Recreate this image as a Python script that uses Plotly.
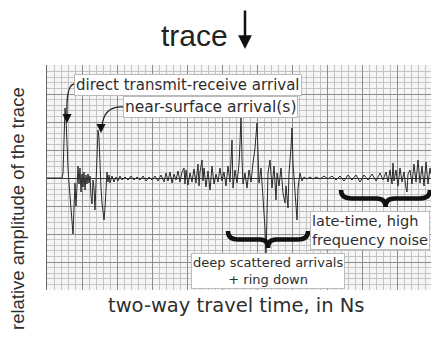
import plotly.graph_objects as go

# two-way travel time (arbitrary units) and relative amplitude of the trace
time_ns = [0, 15, 16, 17, 18, 19, 20, 21, 22, 23, 24, 25, 26, 27, 28, 29, 30, 31, 32, 33,
           34, 35, 36, 37, 38, 39, 40, 41, 42, 43, 44, 45, 46, 47, 48, 49, 50, 51, 52, 53,
           54, 55, 56, 57, 58, 59, 60, 61, 62, 63, 65, 67, 69, 71, 73, 75, 78, 81, 84, 87,
           90, 93, 96, 99, 102, 105, 108, 111, 114, 117, 119, 121, 123, 125, 127, 129, 131, 133, 135, 137,
           138, 139, 141, 143, 145, 147, 149, 151, 152, 153, 155, 156, 157, 159, 161, 163, 165, 167, 169, 171,
           173, 175, 177, 179, 181, 183, 185, 186, 188, 190, 192, 193, 194, 195, 196, 198, 200, 202, 204, 206,
           208, 210, 211, 212, 214, 216, 218, 219, 220, 221, 223, 225, 227, 229, 230, 232, 234, 236, 238, 239,
           241, 242, 244, 245, 246, 248, 249, 250, 251, 253, 255, 257, 260, 263, 266, 269, 273, 277, 281, 285,
           289, 293, 297, 301, 305, 309, 313, 317, 321, 325, 329, 333, 336, 339, 341, 343, 345, 346, 347, 349,
           351, 353, 355, 357, 359, 360, 361, 363, 365, 367, 369, 371, 373, 375, 377, 379, 381, 383, 384]
amplitude = [0, 0, 5, 30, 70, 60, 30, 10, -5, -20, -35, -48, -56, -30, -5, -28, -2, 12, -6, 10,
             -14, 4, -9, 6, -12, 3, -6, 4, -5, 2, -18, -26, -2, -10, -32, -8, 20, 48, 40, 10,
             -10, -25, -38, -42, -30, -5, 6, -4, 3, -5, 2, -4, 1, -3, 2, -2, 1, -2, 2, -2,
             1, -2, 2, -3, 1, -2, 2, -3, 3, -4, 5, -3, 6, -5, 4, -2, 7, -4, 6, 10,
             -6, 8, -7, 5, -4, 9, -5, 14, -8, 6, 18, -3, 10, -9, 7, -12, 12, -6, 4, -4,
             10, -3, 6, -8, 12, -4, 38, -10, 8, -5, 14, 35, 62, 20, -6, 5, -10, 8, -4, 15,
             30, 55, 25, -5, 10, -20, -50, -78, -40, 5, 18, -10, 12, -22, 5, -8, 10, -15, -25, -8,
             -30, 5, 30, 50, 15, -20, -30, -42, -10, 5, -3, 1, -1, 1, -1, 1, -1, 2, -1, 2,
             -2, 2, -3, 3, -2, 3, -4, 3, -2, 4, -3, 5, -2, 6, -4, 8, -6, 15, -3, 8,
             -8, 10, -4, 6, -10, -14, 4, 8, -6, 14, -4, 18, -5, 12, -8, 16, -6, 10, 4]

X_RANGE = [0, 384]
Y_RANGE = [-112, 113]

FONT = "DejaVu Sans, Verdana, sans-serif"
FONT_TITLE = "Liberation Sans, Arial, sans-serif"
TXT = "#2e2e2e"

fig = go.Figure()
fig.add_trace(go.Scatter(x=time_ns, y=amplitude, mode="lines",
                         line=dict(color="#2a2a2a", width=1), hoverinfo="skip",
                         showlegend=False))


def px(xp, yp):
    """convert picture pixel position to data coordinates (plot: left 47, zero at 178)"""
    return xp - 47, 178 - yp


def brace_path(x0, x1, ytop, h):
    xm = (x0 + x1) / 2
    w = x1 - x0
    ymid = ytop + h * 0.5
    ybot = ytop + h
    def P(a, b):
        dx, dy = px(a, b)
        return f"{dx},{dy}"
    return (f"M {P(x0, ytop)} Q {P(x0, ymid)} {P(x0 + w*0.12, ymid)} "
            f"L {P(xm - w*0.1, ymid)} Q {P(xm, ymid)} {P(xm, ybot)} "
            f"Q {P(xm, ymid)} {P(xm + w*0.1, ymid)} "
            f"L {P(x1 - w*0.12, ymid)} Q {P(x1, ymid)} {P(x1, ytop)}")


# braces
fig.add_shape(type="path", path=brace_path(228, 308, 231, 17),
              line=dict(color="#111", width=4.5), layer="above")
fig.add_shape(type="path", path=brace_path(341, 430, 190, 17),
              line=dict(color="#111", width=4.5), layer="above")


def curve(p0, c, p1):
    a = px(*p0); b = px(*c); d = px(*p1)
    return f"M {a[0]},{a[1]} Q {b[0]},{b[1]} {d[0]},{d[1]}"


fig.add_shape(type="path", path=curve((74, 84), (66, 85), (67, 116)),
              line=dict(color="#222", width=1.3), layer="above")
fig.add_shape(type="path", path=curve((123, 107), (104, 106), (102, 126)),
              line=dict(color="#222", width=1.3), layer="above")

annotations = []

def box_text(text, xp, yp, size, xanchor="left", align="left"):
    x, y = px(xp, yp)
    annotations.append(dict(x=x, y=y, xref="x", yref="y", text=text, showarrow=False,
                            xanchor=xanchor, yanchor="middle",
                            font=dict(family=FONT, size=size, color=TXT),
                            bgcolor="white", bordercolor="#bbbbbb", borderwidth=1,
                            borderpad=1, align=align))

box_text("direct transmit-receive arrival", 74, 85, 15)
box_text("near-surface arrival(s)", 123, 107, 15.5)
box_text("late-time, high<br>frequency noise", 430, 230, 14.5, xanchor="right")
box_text("deep scattered arrivals<br>+ ring down", 268, 271, 13, xanchor="center", align="center")

# arrowheads of the curved leaders
for tip in [(67, 123), (101, 133)]:
    x, y = px(*tip)
    annotations.append(dict(x=x, y=y, xref="x", yref="y", ax=0, ay=-9, showarrow=True,
                            arrowhead=2, arrowsize=1.4, arrowwidth=1.3, arrowcolor="#111",
                            text=""))

# title "trace" with a down arrow
annotations.append(dict(x=(194 - 47) / 384, y=(290 - 35) / 225, xref="paper", yref="paper",
                        text="trace", showarrow=False, xanchor="center", yanchor="middle",
                        font=dict(family=FONT_TITLE, size=30, color="#222")))
annotations.append(dict(x=(245 - 47) / 384, y=(290 - 49) / 225, xref="paper", yref="paper",
                        ax=0, ay=-40, showarrow=True, arrowhead=2, arrowsize=1.1,
                        arrowwidth=2.5, arrowcolor="#111", text=""))
# axis titles
annotations.append(dict(x=(17 - 47) / 384, y=(290 - 209) / 225, xref="paper", yref="paper",
                        text="relative amplitude of the trace", showarrow=False, textangle=-90,
                        xanchor="center", yanchor="middle",
                        font=dict(family=FONT_TITLE, size=18.5, color=TXT)))
annotations.append(dict(x=(236 - 47) / 384, y=(290 - 305) / 225, xref="paper", yref="paper",
                        text="two-way travel time, in Ns", showarrow=False,
                        xanchor="center", yanchor="middle",
                        font=dict(family=FONT, size=19.5, color=TXT)))

fig.update_layout(
    width=431, height=338,
    margin=dict(l=47, r=0, t=65, b=48),
    paper_bgcolor="white", plot_bgcolor="#f5f5f5",
    annotations=annotations,
    xaxis=dict(range=X_RANGE, showticklabels=False, ticks="", zeroline=False,
               showgrid=True, dtick=35, tick0=0, gridcolor="#8c8c8c", gridwidth=1,
               minor=dict(dtick=7, tick0=0, showgrid=True, gridcolor="#c4c4c4", gridwidth=1),
               fixedrange=True),
    yaxis=dict(range=Y_RANGE, showticklabels=False, ticks="",
               zeroline=True, zerolinecolor="#333333", zerolinewidth=1.2,
               showgrid=True, dtick=28, tick0=0, gridcolor="#8c8c8c", gridwidth=1,
               minor=dict(dtick=5.6, tick0=0, showgrid=True, gridcolor="#c4c4c4", gridwidth=1),
               showline=True, linecolor="#666666", linewidth=1, fixedrange=True),
)

fig.write_html("out.html", config={"displayModeBar": False},
               post_script="document.body.style.margin='0';")
